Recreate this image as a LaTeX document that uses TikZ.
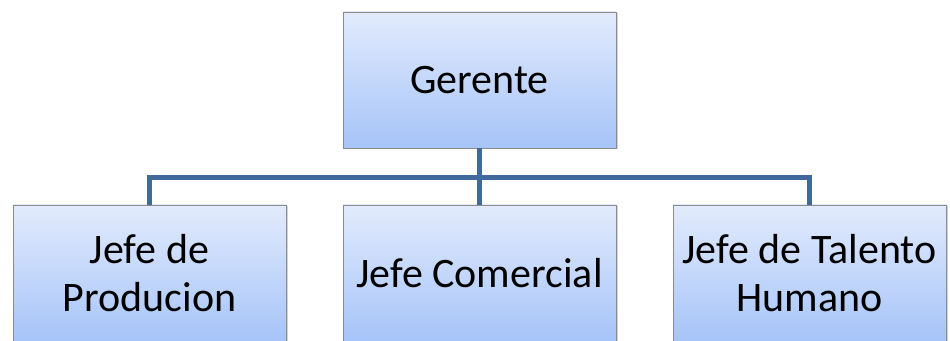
\documentclass[tikz,border=0pt]{standalone}
\usepackage{fontspec}
\setmainfont{Carlito}
\usetikzlibrary{shadows}
\definecolor{boxtop}{HTML}{E2EBFD}
\definecolor{boxbot}{HTML}{A6C4F8}
\definecolor{boxline}{HTML}{8C8C8C}
\definecolor{linkblue}{HTML}{416A9C}
\tikzset{
  orgbox/.style={draw=boxline, line width=0.6pt, top color=boxtop, bottom color=boxbot,
    minimum width=273pt, minimum height=136pt, inner sep=0pt, align=center,
    font=\fontsize{42}{48}\selectfont,
    drop shadow={opacity=0.35, shadow xshift=1.5pt, shadow yshift=-1.5pt}},
  link/.style={draw=linkblue, line width=5pt, line join=miter, line cap=butt}
}
\begin{document}
\begin{tikzpicture}[x=1pt,y=1pt]
  \useasboundingbox (0,0) rectangle (950,340);
  \begin{scope}
    \clip (0,0) rectangle (950,340);
    % connectors
    \coordinate (bus) at (479.5,162);
    \node[orgbox] (ger) at (479.5,260) {Gerente};
    \node[orgbox] (jp) at (149.5,67) {Jefe de\\Producion};
    \node[orgbox] (jc) at (479.5,67) {Jefe Comercial};
    \node[orgbox] (jt) at (809.5,67) {Jefe de Talento\\Humano};
    \draw[link] (jp.north) |- (bus) -| (jt.north);
    \draw[link] (ger.south) -- (jc.north);
  \end{scope}
\end{tikzpicture}
\end{document}
